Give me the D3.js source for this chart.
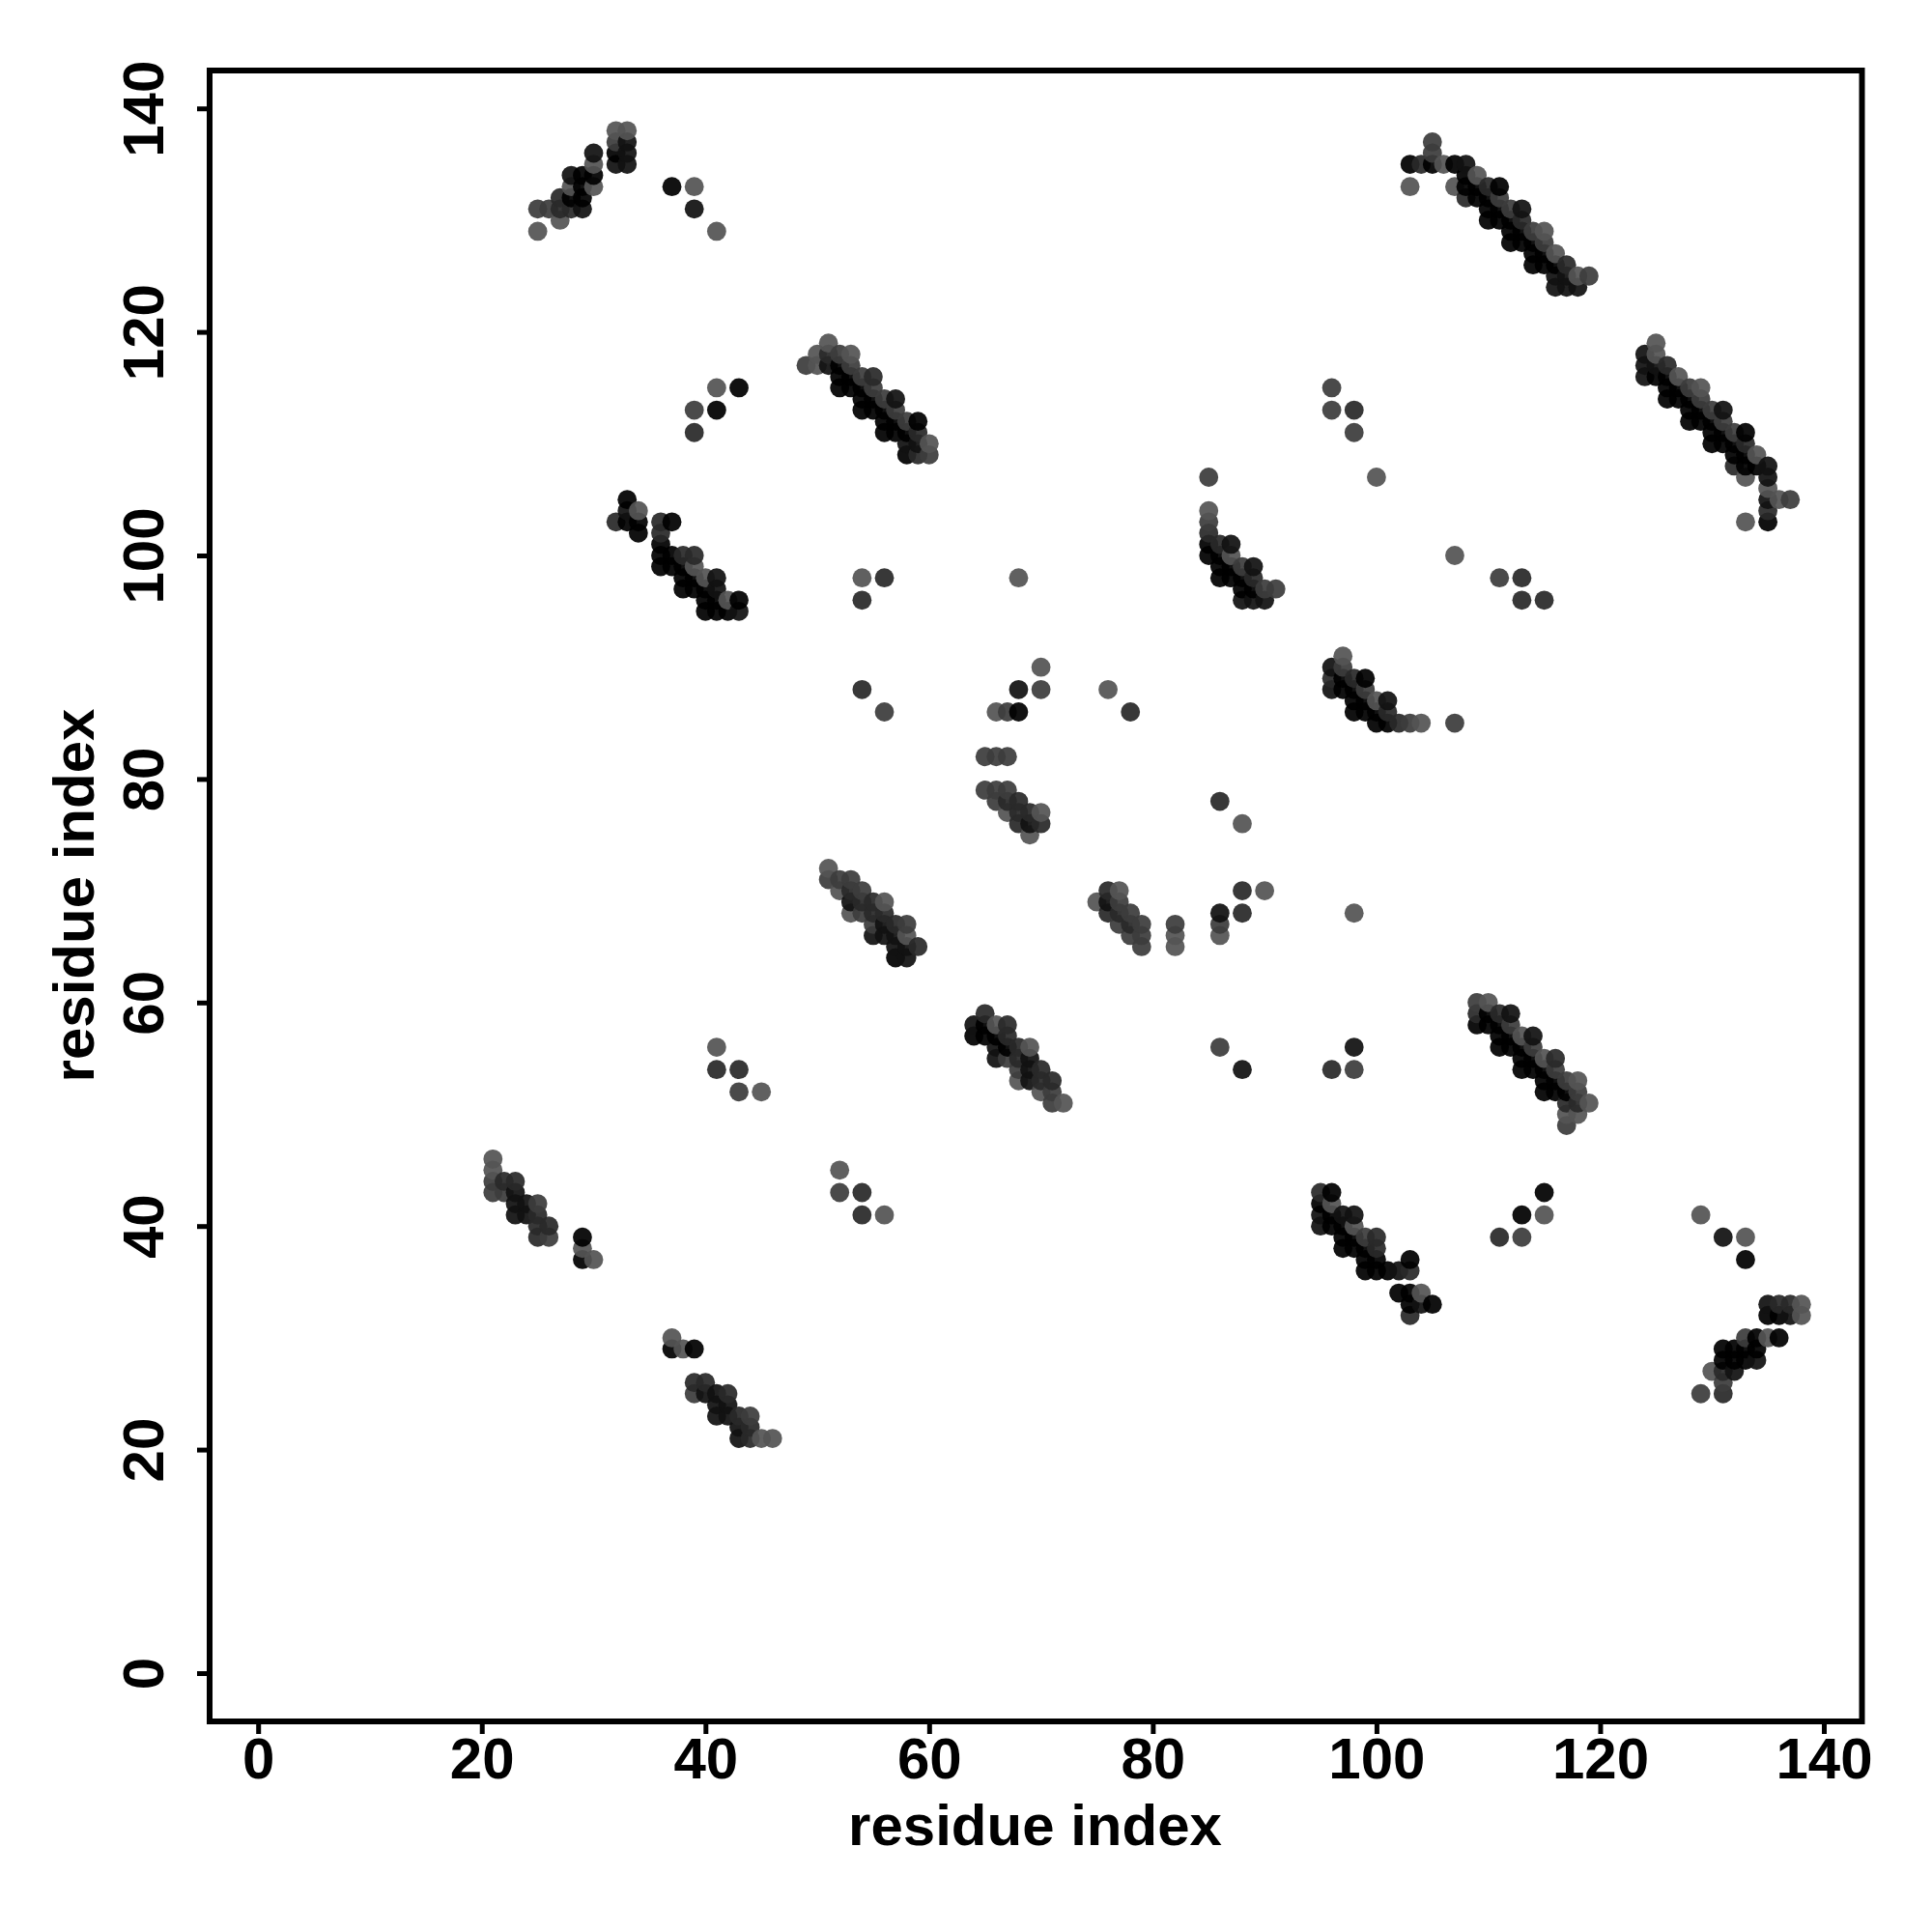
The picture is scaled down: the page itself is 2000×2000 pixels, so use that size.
<!DOCTYPE html>
<html><head><meta charset="utf-8">
<script src="https://cdn.jsdelivr.net/npm/d3@7"></script>
<style>html,body{margin:0;padding:0;background:#fff}svg{display:block}</style>
</head><body><div id="c"></div>
<script>
// each contact: [residue x, residue y, score 1..5]
const tickValues=[0,20,40,60,80,100,120,140];
const axisTitle="residue index";
const clusterA=[[25,131,2],[25,129,1],[26,131,2],[27,130,1],[27,131,3],[27,132,3],[28,131,3],[28,132,5],[28,133,1],[28,134,4],[29,131,4],[29,132,5],[29,133,5],[29,134,5],[30,133,1],[30,134,5],[30,135,1],[30,136,4],[32,135,4],[32,136,5],[32,137,2],[32,138,1],[33,135,4],[33,136,4],[33,137,4],[33,138,1],[37,133,5],[39,133,1],[39,131,4],[41,129,1]];
const clusterB=[[103,135,5],[104,135,3],[105,135,5],[105,136,2],[105,137,2],[106,135,1],[103,133,1],[107,135,5],[108,135,4],[107,133,1],[108,134,5],[108,133,5],[108,132,3],[109,134,1],[109,133,5],[109,132,5],[110,133,3],[111,133,5],[110,132,5],[110,131,5],[110,130,5],[111,132,2],[111,131,5],[111,130,5],[112,131,2],[113,131,4],[112,130,5],[112,129,5],[113,130,3],[112,128,5],[113,129,5],[113,128,5],[114,129,2],[115,129,1],[115,128,2],[114,128,5],[114,127,5],[114,126,5],[115,127,5],[115,126,5],[116,127,1],[116,126,5],[117,126,3],[116,125,4],[116,124,4],[117,125,4],[117,124,4],[118,125,1],[119,125,2],[118,124,4]];
const clusterC=[[125,119,1],[125,118,1],[124,118,4],[124,117,4],[124,116,4],[125,117,4],[125,116,5],[126,117,3],[127,116,1],[126,116,5],[126,115,5],[126,114,5],[127,115,5],[127,114,5],[128,115,2],[129,115,1],[129,114,2],[128,114,5],[128,113,5],[128,112,5],[129,113,5],[129,112,5],[130,113,2],[131,113,4],[131,112,2],[130,112,5],[130,111,5],[130,110,5],[131,111,5],[131,110,5],[132,111,2],[133,111,5],[133,110,3],[132,110,5],[132,109,5],[132,108,3],[133,109,5],[133,108,5],[133,107,1],[134,109,1],[134,108,5],[135,108,4],[135,107,4],[135,106,1],[135,105,4],[135,104,3],[135,103,5],[136,105,1],[137,105,2],[133,103,1]];
const clusterD=[[33,105,5],[33,104,4],[32,103,3],[33,103,5],[34,104,1],[34,103,5],[34,102,5],[36,103,3],[37,103,5],[36,102,3],[36,101,5],[36,100,5],[36,99,5],[37,100,5],[37,99,5],[38,100,3],[39,100,3],[39,99,1],[38,99,5],[38,98,5],[38,97,5],[39,98,5],[39,97,5],[40,98,1],[41,98,4],[41,97,4],[40,97,5],[40,96,5],[40,95,5],[41,96,5],[41,95,5],[42,96,1],[43,96,5],[42,95,5],[43,95,4],[54,98,1],[56,98,3],[54,96,3]];
const clusterE=[[51,119,1],[50,118,1],[49,117,2],[50,117,1],[51,118,3],[51,117,4],[52,118,2],[53,118,1],[53,117,2],[52,117,5],[52,116,5],[52,115,5],[53,116,5],[53,115,5],[54,116,2],[55,116,3],[55,115,2],[54,115,5],[54,114,5],[54,113,5],[55,114,5],[55,113,5],[56,114,2],[57,114,4],[57,113,2],[56,113,5],[56,112,5],[56,111,5],[57,112,5],[57,111,5],[58,112,2],[59,112,5],[59,111,3],[58,111,5],[58,110,4],[58,109,5],[59,110,4],[59,109,3],[60,110,1],[60,109,2]];
const clusterF=[[39,113,2],[39,111,3],[41,115,1],[41,113,5],[43,115,5],[96,115,2],[96,113,2],[98,113,3],[98,111,2],[100,107,1],[85,107,2]];
const clusterG=[[85,104,1],[85,103,2],[85,102,3],[85,101,5],[85,100,5],[86,101,3],[87,101,4],[87,100,1],[86,100,5],[86,99,5],[86,98,5],[87,99,5],[87,98,5],[88,99,2],[89,99,4],[89,98,3],[88,98,5],[88,97,5],[88,96,4],[89,97,5],[89,96,4],[90,97,2],[91,97,2],[90,96,4]];
const clusterH=[[97,91,1],[96,90,4],[97,90,2],[96,89,3],[96,88,4],[97,89,5],[97,88,5],[98,89,3],[99,89,5],[99,88,2],[98,88,5],[98,87,5],[98,86,5],[99,87,5],[99,86,5],[100,87,1],[101,87,4],[101,86,3],[100,86,5],[100,85,5],[101,85,5],[102,85,3],[103,85,2],[104,85,1],[107,85,2]];
const clusterI=[[54,88,3],[56,86,2],[68,98,1],[70,90,1],[70,88,2],[68,88,4],[68,86,5],[67,86,2],[66,86,1],[76,88,1],[78,86,3],[107,100,1],[111,98,2],[113,98,3],[113,96,3],[115,96,3]];
const clusterJ=[[65,82,2],[66,82,2],[67,82,2],[65,79,2],[66,79,2],[67,79,2],[66,78,2],[67,78,3],[68,78,3],[67,77,1],[68,77,3],[69,77,3],[70,77,1],[68,76,3],[69,76,4],[70,76,3],[69,75,1]];
const clusterK=[[51,72,1],[51,71,2],[52,71,2],[53,71,2],[52,70,1],[53,70,3],[54,70,2],[53,69,4],[54,69,3],[55,69,3],[56,69,1],[53,68,1],[54,68,2],[55,68,3],[56,68,3],[55,67,2],[56,67,4],[57,67,3],[58,67,2],[55,66,4],[56,66,4],[57,66,4],[58,66,1],[57,65,4],[58,65,4],[59,65,3],[57,64,5],[58,64,4]];
const clusterL=[[75,69,1],[76,70,3],[76,69,4],[76,68,3],[77,70,1],[77,69,2],[77,68,3],[77,67,2],[78,68,2],[78,67,3],[78,66,2],[79,67,2],[79,66,2],[79,65,2],[82,67,2],[82,66,1],[82,65,1],[86,68,4],[86,67,2],[86,66,1],[88,70,3],[88,68,3],[90,70,1],[98,68,1],[86,78,3],[88,76,1]];
const clusterM=[[65,59,3],[64,58,4],[64,57,5],[65,58,5],[65,57,5],[66,58,1],[67,58,3],[66,57,5],[67,57,3],[66,56,4],[66,55,4],[67,56,5],[67,55,2],[68,56,3],[69,56,1],[68,55,3],[69,55,4],[68,54,2],[69,54,4],[68,53,1],[69,53,4],[70,54,3],[70,53,3],[71,53,3],[70,52,1],[71,52,2],[71,51,2],[72,51,1]];
const clusterN=[[109,60,2],[110,60,1],[109,59,3],[109,58,5],[110,59,5],[110,58,5],[111,59,3],[112,59,4],[112,58,2],[111,58,5],[111,57,5],[111,56,5],[112,57,5],[112,56,5],[113,57,1],[114,57,4],[114,56,2],[113,56,5],[113,55,5],[113,54,5],[114,55,5],[114,54,5],[115,55,1],[116,55,3],[116,54,2],[115,54,5],[115,53,5],[115,52,5],[116,53,5],[116,52,5],[117,53,2],[118,53,1],[118,52,2],[117,52,5],[117,51,3],[118,51,3],[119,51,1],[117,50,1],[118,50,1],[117,49,2]];
const clusterO=[[96,54,3],[98,56,4],[98,54,2],[86,56,2],[88,54,4],[41,56,1],[41,54,3],[43,54,3],[43,52,2],[45,52,1]];
const clusterP=[[95,43,3],[96,43,5],[95,42,5],[95,41,4],[95,40,4],[96,42,1],[96,41,5],[96,40,5],[97,41,4],[98,41,4],[98,40,1],[97,40,5],[97,39,5],[97,38,5],[98,39,5],[98,38,5],[99,39,2],[100,39,3],[100,38,3],[99,38,5],[99,37,5],[99,36,5],[100,37,5],[100,36,5],[101,36,5],[102,36,4],[103,36,3],[103,37,5],[102,34,5],[103,34,5],[104,34,1],[103,33,5],[104,33,4],[105,33,5],[103,32,3]];
const clusterQ=[[111,39,3],[113,41,5],[113,39,2],[115,43,5],[115,41,1],[129,41,1],[131,39,4],[133,39,1],[133,37,5],[52,45,1],[52,43,2],[54,43,3],[54,41,3],[56,41,1]];
const clusterR=[[129,25,2],[130,27,1],[131,25,3],[131,26,2],[131,27,3],[131,28,5],[131,29,5],[132,27,4],[132,28,5],[132,29,5],[133,28,5],[133,29,5],[133,30,2],[134,28,4],[134,29,5],[134,30,5],[135,30,1],[136,30,5],[135,32,5],[135,33,4],[136,32,5],[136,33,3],[137,32,4],[137,33,3],[138,32,1],[138,33,1]];
const clusterS=[[21,46,1],[21,45,1],[21,44,2],[21,43,2],[22,44,3],[22,43,2],[23,44,3],[23,43,4],[23,42,4],[23,41,4],[24,42,4],[24,41,4],[25,42,2],[25,41,3],[25,40,3],[25,39,3],[26,40,3],[26,39,2],[29,39,5],[29,38,1],[29,37,5],[30,37,1]];
const clusterT=[[37,30,1],[37,29,5],[38,29,1],[39,29,5],[39,26,3],[39,25,2],[40,26,3],[40,25,4],[41,25,4],[41,24,4],[41,23,4],[42,25,3],[42,24,4],[42,23,4],[43,23,3],[43,22,4],[43,21,4],[44,23,2],[44,22,3],[44,21,3],[45,21,1],[46,21,1]];

const contacts=[clusterA,clusterB,clusterC,clusterD,clusterE,clusterF,clusterG,clusterH,clusterI,clusterJ,clusterK,clusterL,clusterM,clusterN,clusterO,clusterP,clusterQ,clusterR,clusterS,clusterT].flat()
  .sort((a,b)=>d3.ascending(a[0],b[0])||d3.ascending(a[1],b[1]));

const FONT='"Liberation Sans",Arial,sans-serif';
const svg=d3.select("#c").append("svg").attr("width",2000).attr("height",2000);
svg.append("rect").attr("width",2000).attr("height",2000).attr("fill","#fff");
const box={l:217,r:1927.5,t:73,b:1782};
const x=d3.scaleLinear().domain([0,140]).range([267.2,1888]);
const y=d3.scaleLinear().domain([0,140]).range([1732,112.2]);
const shade=d3.scaleOrdinal().domain([1,2,3,4,5]).range(["rgb(84,84,84)","rgb(60,60,60)","rgb(41,41,41)","rgb(17,17,17)","rgb(0,0,0)"]);

svg.append("g").selectAll("circle").data(contacts).join("circle")
  .attr("cx",d=>x(d[0])).attr("cy",d=>y(d[1])).attr("r",9.9)
  .attr("fill",d=>shade(d[2])).attr("fill-opacity",0.93);

svg.append("rect").attr("x",box.l).attr("y",box.t).attr("width",box.r-box.l).attr("height",box.b-box.t)
  .attr("fill","none").attr("stroke","#000").attr("stroke-width",6);

const gx=svg.append("g").attr("transform",`translate(0,${box.b})`)
  .call(d3.axisBottom(x).tickValues(tickValues).tickSize(13).tickPadding(4));
const gy=svg.append("g").attr("transform",`translate(${box.l},0)`)
  .call(d3.axisLeft(y).tickValues(tickValues).tickSize(13).tickPadding(4));
[gx,gy].forEach(g=>{
  g.select(".domain").remove();
  g.selectAll(".tick line").attr("stroke","#000").attr("stroke-width",5);
  g.selectAll(".tick text").attr("fill","#000").attr("font-family",FONT).attr("font-weight",700).attr("font-size",60);
});
gx.selectAll(".tick text").attr("y",0).attr("dy",0).attr("text-anchor","middle")
  .attr("transform","translate(0,59)");
gy.selectAll(".tick text").attr("x",0).attr("dy",0).attr("text-anchor","middle")
  .attr("transform","translate(-48,0) rotate(-90)");

svg.append("text").attr("x",1071.5).attr("y",1910).attr("text-anchor","middle")
  .attr("font-family",FONT).attr("font-weight",700).attr("font-size",60).text(axisTitle);
svg.append("text").attr("transform","translate(97,927) rotate(-90)").attr("text-anchor","middle")
  .attr("font-family",FONT).attr("font-weight",700).attr("font-size",60).text(axisTitle);
</script></body></html>
